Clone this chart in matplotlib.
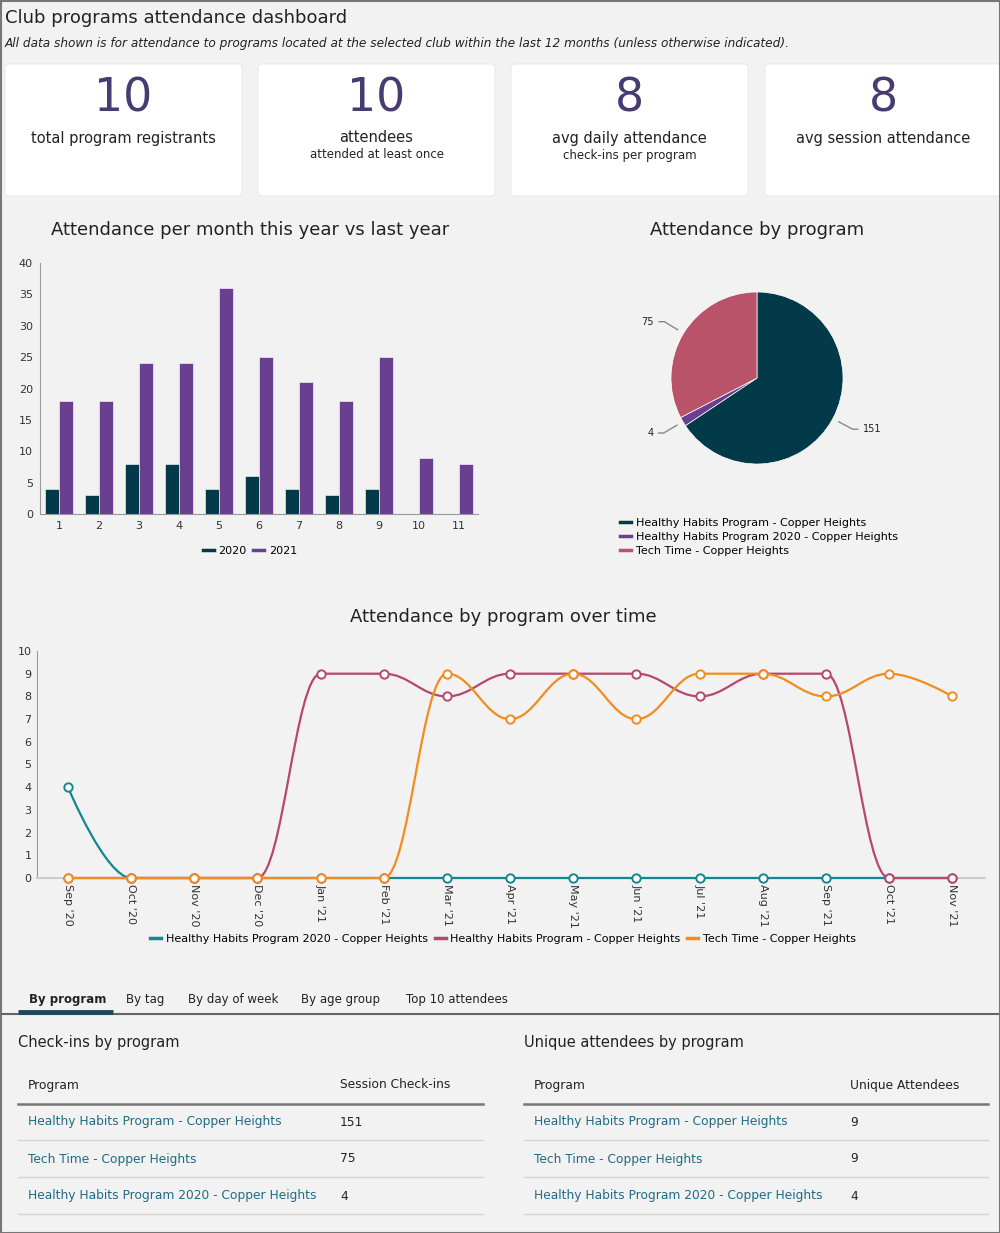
import math
import matplotlib.pyplot as plt
from matplotlib.patches import FancyBboxPatch, PathPatch, Rectangle
from matplotlib.path import Path
from matplotlib.lines import Line2D

plt.rcParams['font.family'] = ['DejaVu Sans']

W, H = 1000, 1233

# ---- data ----
card_values = [10, 10, 8, 8]
card_labels = ['total program registrants', 'attendees', 'avg daily attendance', 'avg session attendance']
card_sublabels = ['', 'attended at least once', 'check-ins per program', '']

months = list(range(1, 12))
att_2020 = [4, 3, 8, 8, 4, 6, 4, 3, 4, 0, 0]
att_2021 = [18, 18, 24, 24, 36, 25, 21, 18, 25, 9, 8]

pie_programs = ['Healthy Habits Program - Copper Heights',
                'Healthy Habits Program 2020 - Copper Heights',
                'Tech Time - Copper Heights']
pie_checkins = [151, 4, 75]

time_labels = ["Sep '20", "Oct '20", "Nov '20", "Dec '20", "Jan '21", "Feb '21", "Mar '21",
               "Apr '21", "May '21", "Jun '21", "Jul '21", "Aug '21", "Sep '21", "Oct '21", "Nov '21"]
hh2020_series = [4, 0, 0, 0, 0, 0, 0, 0, 0, 0, 0, 0, 0, 0, 0]
hh_series = [0, 0, 0, 0, 9, 9, 8, 9, 9, 9, 8, 9, 9, 0, 0]
tech_series = [0, 0, 0, 0, 0, 0, 9, 7, 9, 7, 9, 9, 8, 9, 8]

tabs = ['By program', 'By tag', 'By day of week', 'By age group', 'Top 10 attendees']
table_programs = ['Healthy Habits Program - Copper Heights',
                  'Tech Time - Copper Heights',
                  'Healthy Habits Program 2020 - Copper Heights']
session_checkins = [151, 75, 4]
unique_attendees = [9, 9, 4]

# ---- colours ----
BG = '#f2f2f2'
DARK = '#023a4a'
PURPLE = '#6b3f8f'
PINK = '#b9536a'
TEAL = '#13878f'
LINE_PINK = '#b9476b'
ORANGE = '#f28c1c'
TXT = '#222222'
LINK = '#1e6b85'


def box(x0, y0, x1, y1):
    return [x0 / W, 1 - y1 / H, (x1 - x0) / W, (y1 - y0) / H]


def spline_path(xs, ys, smoothing=1.5):
    # highcharts-style spline through the points
    n = len(xs)
    lc = [None] * n
    rc = [None] * n
    d = smoothing + 1
    for i in range(1, n - 1):
        px, py = xs[i], ys[i]
        lx, ly = xs[i - 1], ys[i - 1]
        nx, ny = xs[i + 1], ys[i + 1]
        lcx = (smoothing * px + lx) / d
        lcy = (smoothing * py + ly) / d
        rcx = (smoothing * px + nx) / d
        rcy = (smoothing * py + ny) / d
        corr = 0
        if rcx != lcx:
            corr = (rcy - lcy) * (rcx - px) / (rcx - lcx) + py - rcy
        lcy += corr
        rcy += corr
        if lcy > ly and lcy > py:
            lcy = max(ly, py); rcy = 2 * py - lcy
        elif lcy < ly and lcy < py:
            lcy = min(ly, py); rcy = 2 * py - lcy
        if rcy > ny and rcy > py:
            rcy = max(ny, py); lcy = 2 * py - rcy
        elif rcy < ny and rcy < py:
            rcy = min(ny, py); lcy = 2 * py - rcy
        lc[i] = (lcx, lcy)
        rc[i] = (rcx, rcy)
    verts = [(xs[0], ys[0])]
    codes = [Path.MOVETO]
    for i in range(1, n):
        c1 = rc[i - 1] or (xs[i - 1], ys[i - 1])
        c2 = lc[i] or (xs[i], ys[i])
        verts += [c1, c2, (xs[i], ys[i])]
        codes += [Path.CURVE4] * 3
    return Path(verts, codes)


fig = plt.figure(figsize=(W / 100, H / 100), dpi=100, facecolor=BG)

bg = fig.add_axes([0, 0, 1, 1])
bg.set_xlim(0, W)
bg.set_ylim(H, 0)
bg.axis('off')

# header
bg.text(5, 18, 'Club programs attendance dashboard', fontsize=13, color=TXT, va='center')
bg.text(5, 43, 'All data shown is for attendance to programs located at the selected club within the last 12 months (unless otherwise indicated).',
        fontsize=8.7, style='italic', color=TXT, va='center')

# cards
card_x = [5, 258, 511, 765]
for cx, v, lab, sub in zip(card_x, card_values, card_labels, card_sublabels):
    bg.add_patch(FancyBboxPatch((cx, 64), 237, 132, boxstyle='round,pad=0,rounding_size=4',
                                facecolor='white', edgecolor='#e6e6e6', lw=0.6))
    mid = cx + 118.5
    bg.text(mid, 99, str(v), fontsize=33, color='#473b72', ha='center', va='center')
    bg.text(mid, 138, lab, fontsize=10.5, color=TXT, ha='center', va='center')
    if sub:
        bg.text(mid, 155, sub, fontsize=8.5, color=TXT, ha='center', va='center')

# ---- bar chart ----
bg.text(250, 230, 'Attendance per month this year vs last year', fontsize=13, color=TXT, ha='center', va='center')
ax1 = fig.add_axes(box(40, 263, 478, 514))
ax1.patch.set_alpha(0)
bw = 0.35
ax1.bar([m - 0.18 for m in months], att_2020, bw, color=DARK, edgecolor='white', lw=0.4, label='2020')
ax1.bar([m + 0.18 for m in months], att_2021, bw, color=PURPLE, edgecolor='white', lw=0.4, label='2021')
ax1.set_xlim(0.525, 11.475)
ax1.set_ylim(0, 40)
ax1.set_yticks(range(0, 41, 5))
ax1.set_xticks(months)
ax1.tick_params(length=0, labelsize=8, colors='#333333', pad=5)
for s in ['top', 'right']:
    ax1.spines[s].set_visible(False)
ax1.spines['left'].set_color('#999999')
ax1.spines['bottom'].set_color('#999999')
ax1.legend(handles=[Line2D([], [], color=DARK, lw=2.5), Line2D([], [], color=PURPLE, lw=2.5)],
           labels=['2020', '2021'], loc='center', bbox_to_anchor=(250 / W, 1 - 551 / H),
           bbox_transform=fig.transFigure, ncol=2, frameon=False, fontsize=8,
           handlelength=1.0, handletextpad=0.4, columnspacing=0.6)

# ---- pie chart ----
bg.text(757, 230, 'Attendance by program', fontsize=13, color=TXT, ha='center', va='center')
pr = 86
ax2 = fig.add_axes(box(757 - 150, 378 - 150, 757 + 150, 378 + 150))
ax2.axis('off')
wedges, _ = ax2.pie(pie_checkins, colors=[DARK, PURPLE, PINK], startangle=90, counterclock=False,
                    radius=1, wedgeprops=dict(edgecolor='white', lw=0.5))
ax2.set_xlim(-150 / pr, 150 / pr)
ax2.set_ylim(-150 / pr, 150 / pr)
ax2.set_aspect('equal')
for w, v in zip(wedges, pie_checkins):
    ang = math.radians((w.theta1 + w.theta2) / 2)
    ca, sa = math.cos(ang), math.sin(ang)
    x0, y0 = 1.08 * ca, 1.08 * sa
    x1, y1 = 1.26 * ca, 1.26 * sa
    sgn = 1 if ca > 0 else -1
    ax2.plot([x0, x1, x1 + sgn * 0.06], [y0, y1, y1], color='#888888', lw=1, clip_on=False)
    ax2.text(x1 + sgn * 0.12, y1, str(v), fontsize=7, color=TXT,
             ha='left' if sgn > 0 else 'right', va='center')
ax2.legend(handles=[Line2D([], [], color=c, lw=2.5) for c in [DARK, PURPLE, PINK]],
           labels=pie_programs, loc='upper left', bbox_to_anchor=(610 / W, 1 - 508 / H),
           bbox_transform=fig.transFigure, frameon=False, fontsize=8,
           handlelength=1.0, handletextpad=0.4, labelspacing=0.35)

# ---- line chart ----
bg.text(503, 617, 'Attendance by program over time', fontsize=13, color=TXT, ha='center', va='center')
ax3 = fig.add_axes(box(37, 651, 985, 878))
ax3.patch.set_alpha(0)
xs = list(range(len(time_labels)))
for k, (ser, col) in enumerate([(hh2020_series, TEAL), (hh_series, LINE_PINK), (tech_series, ORANGE)]):
    ax3.add_patch(PathPatch(spline_path(xs, ser), facecolor='none', edgecolor=col, lw=1.6,
                            clip_on=False, zorder=3 + 2 * k))
    ax3.plot(xs, ser, ls='none', marker='o', ms=6, mfc='white', mec=col, mew=1.4,
             clip_on=False, zorder=4 + 2 * k)
ax3.set_xlim(-0.49, 14.52)
ax3.set_ylim(0, 10)
ax3.set_yticks(range(0, 11))
ax3.set_xticks(xs)
ax3.set_xticklabels(time_labels, rotation=-90, va='top', ha='center')
ax3.tick_params(length=0, labelsize=8, colors='#333333', pad=4)
for s in ['top', 'right']:
    ax3.spines[s].set_visible(False)
ax3.spines['left'].set_color('#999999')
ax3.spines['bottom'].set_color('#cccccc')
ax3.spines['bottom'].set_linewidth(1.5)
ax3.legend(handles=[Line2D([], [], color=c, lw=2.5) for c in [TEAL, LINE_PINK, ORANGE]],
           labels=['Healthy Habits Program 2020 - Copper Heights', 'Healthy Habits Program - Copper Heights',
                   'Tech Time - Copper Heights'],
           loc='center', bbox_to_anchor=(503 / W, 1 - 939 / H), bbox_transform=fig.transFigure,
           ncol=3, frameon=False, fontsize=8, handlelength=1.0, handletextpad=0.4, columnspacing=0.6)

# ---- tabs ----
tab_x = [29, 126, 188, 301, 406]
for i, (tx, t) in enumerate(zip(tab_x, tabs)):
    bg.text(tx, 999, t, fontsize=8.5, color=TXT, va='center', weight='bold' if i == 0 else 'normal')
bg.plot([2, 998], [1014, 1014], color='#666666', lw=1.5)
bg.plot([18, 113], [1012, 1012], color='#1a4a5a', lw=3.5, solid_capstyle='butt')

# ---- tables ----
row_y = [1122, 1159, 1196]
line_y = [1140, 1177, 1214]
for x0, x1, title, head2, col2x, vals in [
        (18, 483, 'Check-ins by program', 'Session Check-ins', 340, session_checkins),
        (524, 988, 'Unique attendees by program', 'Unique Attendees', 850, unique_attendees)]:
    bg.text(x0, 1043, title, fontsize=10.5, color=TXT, va='center')
    bg.text(x0 + 10, 1085, 'Program', fontsize=8.8, color=TXT, va='center')
    bg.text(col2x, 1085, head2, fontsize=8.8, color=TXT, va='center')
    bg.plot([x0, x1], [1104, 1104], color='#777777', lw=1.8)
    for ry, ly, p, v in zip(row_y, line_y, table_programs, vals):
        bg.text(x0 + 10, ry, p, fontsize=8.8, color=LINK, va='center')
        bg.text(col2x, ry, str(v), fontsize=8.8, color=TXT, va='center')
        bg.plot([x0, x1], [ly, ly], color='#d3d3d3', lw=1)

bg.add_patch(Rectangle((0.5, 0.5), W - 1, H - 1, facecolor='none', edgecolor='#777777', lw=1.5))

fig.savefig('out.png', dpi=100, facecolor=BG)
